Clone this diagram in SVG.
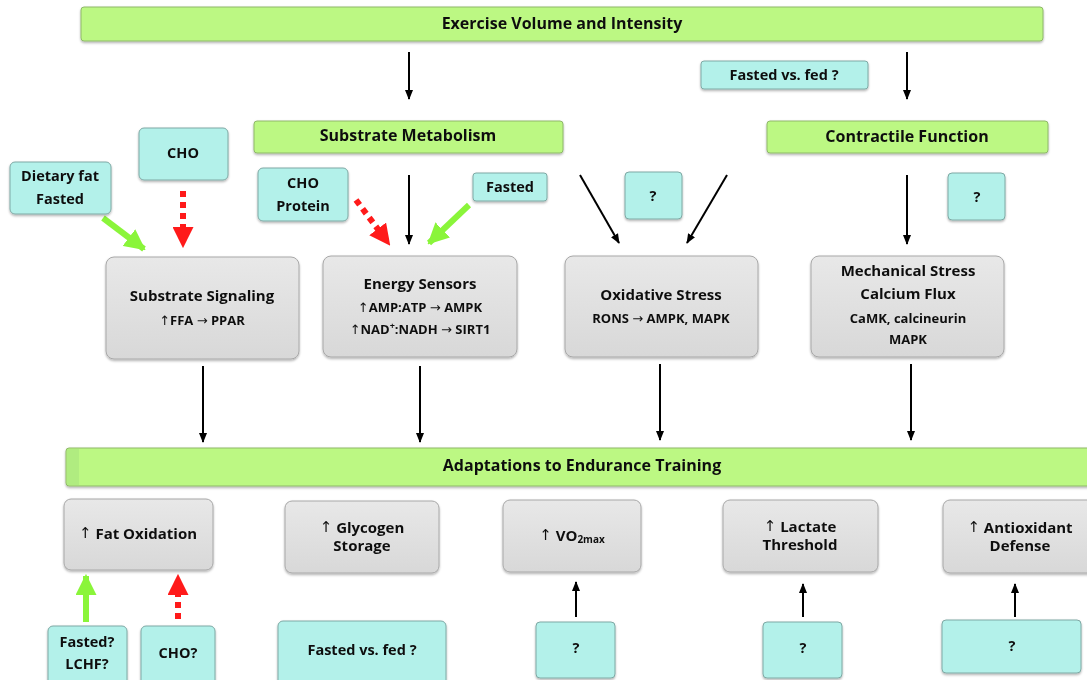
<svg xmlns="http://www.w3.org/2000/svg" width="1087" height="680" viewBox="0 0 1087 680">
<style>
text{font-family:"Open Sans","Liberation Sans",sans-serif;fill:#111;text-anchor:middle;dominant-baseline:central}
.t{font-size:16px;font-weight:700}
.s{font-size:14.5px;font-weight:700}
.h{font-size:15px;font-weight:700}
.m{font-size:13px;font-weight:700}
.p{font-size:15px;font-weight:700}
.a{font-family:"DejaVu Sans",sans-serif;font-weight:400}
.g{fill:#bcf883;stroke:#8fb86a;stroke-width:1}
.c{fill:#b3f1ea;stroke:#7fa9a5;stroke-width:1}
.b{fill:url(#gr);stroke:#a8a8a8;stroke-width:1}
.k{stroke:#000;stroke-width:2;fill:none;marker-end:url(#ak)}
.gl{stroke:#8af53a;stroke-width:6;fill:none;marker-end:url(#ag)}
.rd{stroke:#ff1a1a;stroke-width:6;stroke-dasharray:6 5;fill:none;marker-end:url(#ar)}
</style>
<defs>
<linearGradient id="gr" x1="0" y1="0" x2="0" y2="1"><stop offset="0" stop-color="#e8e8e8"/><stop offset="1" stop-color="#d8d8d8"/></linearGradient>
<filter id="sh" x="-10%" y="-10%" width="120%" height="130%"><feDropShadow dx="0" dy="1.5" stdDeviation="1.2" flood-color="#000" flood-opacity="0.3"/></filter>
<marker id="ak" viewBox="0 0 10 10" refX="9" refY="5" markerWidth="5" markerHeight="5" orient="auto"><path d="M0,1 L10,5 L0,9 z" fill="#000"/></marker>
<marker id="ag" viewBox="0 0 10 10" refX="9" refY="5" markerWidth="3.5" markerHeight="3.5" orient="auto"><path d="M0,0 L10,5 L0,10 z" fill="#8af53a"/></marker>
<marker id="ar" viewBox="0 0 10 10" refX="9" refY="5" markerWidth="3.5" markerHeight="3.5" orient="auto"><path d="M0,0 L10,5 L0,10 z" fill="#ff1a1a"/></marker>
</defs>

<g id="connectors">
<line class="k" x1="409" y1="52" x2="409" y2="99"/>
<line class="k" x1="907" y1="52" x2="907" y2="99"/>
<line class="gl" x1="103" y1="218" x2="144" y2="249"/>
<line class="rd" x1="183" y1="191" x2="183" y2="246"/>
<line class="rd" x1="356" y1="200" x2="389" y2="244"/>
<line class="k" x1="409" y1="175" x2="409" y2="244"/>
<line class="gl" x1="469" y1="205" x2="429" y2="243"/>
<line class="k" x1="580" y1="175" x2="619" y2="243"/>
<line class="k" x1="727" y1="175" x2="687" y2="243"/>
<line class="k" x1="907" y1="175" x2="907" y2="244"/>
<line class="k" x1="203" y1="366" x2="203" y2="442"/>
<line class="k" x1="420" y1="366" x2="420" y2="442"/>
<line class="k" x1="660" y1="364" x2="660" y2="440"/>
<line class="k" x1="911" y1="364" x2="911" y2="440"/>
<line class="gl" x1="86" y1="622" x2="86" y2="576"/>
<line class="rd" x1="178" y1="619" x2="178" y2="576"/>
<line class="k" x1="576" y1="617" x2="576" y2="582"/>
<line class="k" x1="803" y1="617" x2="803" y2="584"/>
<line class="k" x1="1015" y1="617" x2="1015" y2="584"/>
</g>

<g id="exercise" filter="url(#sh)"><rect class="g" x="81" y="7" width="962" height="34" rx="3"/><text class="t" x="562" y="23">Exercise Volume and Intensity</text></g>
<g id="fasted-fed-top" filter="url(#sh)"><rect class="c" x="701" y="61" width="167" height="28" rx="3"/><text class="s" x="784" y="74">Fasted vs. fed ?</text></g>
<g id="substrate-metabolism" filter="url(#sh)"><rect class="g" x="254" y="121" width="309" height="32" rx="3"/><text class="t" x="408" y="135">Substrate Metabolism</text></g>
<g id="contractile-function" filter="url(#sh)"><rect class="g" x="767" y="121" width="281" height="32" rx="3"/><text class="t" x="907" y="136">Contractile Function</text></g>

<g id="cho" filter="url(#sh)"><rect class="c" x="139" y="128" width="89" height="52" rx="5"/><text class="s" x="183" y="152">CHO</text></g>
<g id="dietary-fat" filter="url(#sh)"><rect class="c" x="10" y="162" width="101" height="52" rx="5"/><text class="s" x="60" y="175">Dietary fat</text><text class="s" x="60" y="198">Fasted</text></g>
<g id="cho-protein" filter="url(#sh)"><rect class="c" x="258" y="168" width="90" height="53" rx="5"/><text class="s" x="303" y="182">CHO</text><text class="s" x="303" y="205">Protein</text></g>
<g id="fasted" filter="url(#sh)"><rect class="c" x="473" y="173" width="74" height="28" rx="3"/><text class="s" x="510" y="186">Fasted</text></g>
<g id="q-oxidative" filter="url(#sh)"><rect class="c" x="625" y="172" width="57" height="47" rx="4"/><text class="s" x="653" y="195">?</text></g>
<g id="q-contractile" filter="url(#sh)"><rect class="c" x="948" y="173" width="57" height="47" rx="4"/><text class="s" x="977" y="196">?</text></g>

<g id="substrate-signaling" filter="url(#sh)"><rect class="b" x="106" y="257" width="193" height="102" rx="8"/><text class="h" x="202" y="295">Substrate Signaling</text><text class="m" x="202" y="320"><tspan class="a">↑</tspan>FFA <tspan class="a">→</tspan> PPAR</text></g>
<g id="energy-sensors" filter="url(#sh)"><rect class="b" x="323" y="256" width="194" height="101" rx="8"/><text class="h" x="420" y="283">Energy Sensors</text><text class="m" x="420" y="307"><tspan class="a">↑</tspan>AMP:ATP <tspan class="a">→</tspan> AMPK</text><text class="m" x="420" y="329"><tspan class="a">↑</tspan>NAD<tspan dy="-4" font-size="9">+</tspan><tspan dy="4">:NADH </tspan><tspan class="a">→</tspan> SIRT1</text></g>
<g id="oxidative-stress" filter="url(#sh)"><rect class="b" x="565" y="256" width="193" height="101" rx="8"/><text class="h" x="661" y="294">Oxidative Stress</text><text class="m" x="661" y="318">RONS <tspan class="a">→</tspan> AMPK, MAPK</text></g>
<g id="mechanical-stress" filter="url(#sh)"><rect class="b" x="811" y="256" width="193" height="101" rx="8"/><text class="h" x="908" y="270">Mechanical Stress</text><text class="h" x="908" y="293">Calcium Flux</text><text class="m" x="908" y="318">CaMK, calcineurin</text><text class="m" x="908" y="339">MAPK</text></g>

<g id="adaptations" filter="url(#sh)"><rect class="g" x="66" y="448" width="1030" height="38" rx="3"/><rect x="67" y="449" width="12" height="36" fill="#b0ec80"/><text class="t" x="582" y="465">Adaptations to Endurance Training</text></g>

<g id="fat-oxidation" filter="url(#sh)"><rect class="b" x="64" y="499" width="149" height="71" rx="7"/><text class="p" x="138" y="533"><tspan class="a">↑</tspan> Fat Oxidation</text></g>
<g id="glycogen" filter="url(#sh)"><rect class="b" x="285" y="501" width="154" height="72" rx="7"/><text class="p" x="362" y="527"><tspan class="a">↑</tspan> Glycogen</text><text class="p" x="362" y="545">Storage</text></g>
<g id="vo2max" filter="url(#sh)"><rect class="b" x="503" y="500" width="138" height="72" rx="7"/><text class="p" x="572" y="535"><tspan class="a">↑</tspan> VO<tspan dy="4" font-size="10">2max</tspan></text></g>
<g id="lactate" filter="url(#sh)"><rect class="b" x="723" y="500" width="155" height="72" rx="7"/><text class="p" x="800" y="526"><tspan class="a">↑</tspan> Lactate</text><text class="p" x="800" y="544">Threshold</text></g>
<g id="antioxidant" filter="url(#sh)"><rect class="b" x="943" y="500" width="152" height="73" rx="7"/><text class="p" x="1020" y="527"><tspan class="a">↑</tspan> Antioxidant</text><text class="p" x="1020" y="545">Defense</text></g>

<g id="fasted-lchf" filter="url(#sh)"><rect class="c" x="48" y="626" width="79" height="60" rx="5"/><text class="s" x="87" y="641">Fasted?</text><text class="s" x="87" y="663">LCHF?</text></g>
<g id="cho-q" filter="url(#sh)"><rect class="c" x="141" y="626" width="74" height="60" rx="5"/><text class="s" x="178" y="652">CHO?</text></g>
<g id="fasted-fed-bottom" filter="url(#sh)"><rect class="c" x="278" y="621" width="168" height="65" rx="5"/><text class="s" x="362" y="649">Fasted vs. fed ?</text></g>
<g id="q-vo2" filter="url(#sh)"><rect class="c" x="536" y="622" width="79" height="56" rx="4"/><text class="s" x="576" y="647">?</text></g>
<g id="q-lactate" filter="url(#sh)"><rect class="c" x="763" y="622" width="79" height="56" rx="4"/><text class="s" x="803" y="647">?</text></g>
<g id="q-antiox" filter="url(#sh)"><rect class="c" x="942" y="620" width="139" height="53" rx="4"/><text class="s" x="1012" y="645">?</text></g>
</svg>
